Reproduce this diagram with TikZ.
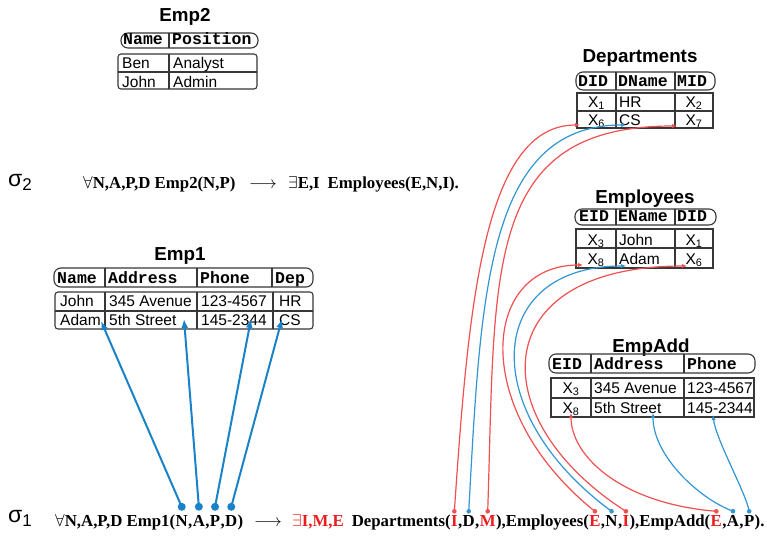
\documentclass[tikz,border=0pt]{standalone}
\usepackage{fontspec}
\setmainfont{Liberation Serif}
\newfontfamily\tabsans{Liberation Sans}
\newfontfamily\tabmono{Liberation Mono}
\usetikzlibrary{arrows.meta}

\definecolor{gridc}{RGB}{55,55,55}
\definecolor{redln}{RGB}{240,80,80}
\definecolor{blueln}{RGB}{50,150,210}
\definecolor{bluear}{RGB}{25,130,200}
\definecolor{redtx}{RGB}{235,30,30}

\tikzset{
  ttl/.style={font=\tabsans\bfseries\fontsize{18.8}{18.8}\selectfont, inner sep=0pt, anchor=base},
  hd/.style={font=\tabmono\bfseries\fontsize{16.5}{16.5}\selectfont, inner sep=0pt, anchor=base west},
  dl/.style={font=\tabsans\fontsize{15.5}{15.5}\selectfont, inner sep=0pt, anchor=base west},
  dc/.style={dl, anchor=base},
  tline/.style={draw=gridc, line width=1.1pt},
  pill/.style={tline, rounded corners=7pt},
  dbox/.style={tline, rounded corners=#1},
  dbox/.default=0pt,
  fm/.style={font=\bfseries\fontsize{16.8}{16.8}\selectfont, inner sep=0pt, anchor=base west},
  rd/.style={fm, text=redtx},
  sig/.style={font=\tabsans\fontsize{23}{23}\selectfont, inner sep=0pt, anchor=base west},
  thickar/.style={draw=bluear, line width=2pt, -{Latex[length=9pt,width=7pt]}},
  rcurve/.style={draw=redln, line width=1.2pt, -{Latex[length=5pt,width=4.5pt]}},
  bcurve/.style={draw=blueln, line width=1.2pt, -{Latex[length=5pt,width=4.5pt]}},
}
\newcommand\sub[1]{\raisebox{-4pt}{\fontsize{17}{17}\selectfont #1}}

\begin{document}
\begin{tikzpicture}[x=1pt,y=-1pt]
\useasboundingbox (0,0) rectangle (767,535);
\fill[white] (0,0) rectangle (767,535);

% ---------- Emp2 ----------
\node[ttl] (emp2t) at (185,22) {Emp2};
\draw[pill] (121,33) rectangle (258,48);
\draw[tline] (169,33) -- (169,48);
\node[hd] (emp2h1) at (123,45) {Name};
\node[hd] (emp2h2) at (172,45) {Position};
\draw[dbox=3pt] (118,54) rectangle (257,89);
\draw[tline] (118,72) -- (257,72);
\draw[tline] (169,54) -- (169,89);
\node[dl] (emp2a1) at (122,68) {Ben};
\node[dl] (emp2a2) at (173,68) {Analyst};
\node[dl] (emp2b1) at (122,87) {John};
\node[dl] (emp2b2) at (173,87) {Admin};

% ---------- Emp1 ----------
\node[ttl] (emp1t) at (180,260) {Emp1};
\draw[pill] (54,268) rectangle (313,287);
\draw[tline] (105,268) -- (105,287);
\draw[tline] (197,268) -- (197,287);
\draw[tline] (272,268) -- (272,287);
\node[hd] (emp1h1) at (57,283) {Name};
\node[hd] (emp1h2) at (108,283) {Address};
\node[hd] (emp1h3) at (200,283) {Phone};
\node[hd] (emp1h4) at (275,283) {Dep};
\draw[dbox=3pt] (55,292) rectangle (313,329);
\draw[tline] (55,311) -- (313,311);
\draw[tline] (105,292) -- (105,329);
\draw[tline] (197,292) -- (197,329);
\draw[tline] (273,292) -- (273,329);
\node[dl] (emp1a1) at (60,306) {John};
\node[dl] (emp1a2) at (109,306) {345 Avenue};
\node[dl] (emp1a3) at (201,306) {123-4567};
\node[dl] (emp1a4) at (279,306) {HR};
\node[dl] (emp1b1) at (60,325) {Adam};
\node[dl] (emp1b2) at (109,325) {5th Street};
\node[dl] (emp1b3) at (201,325) {145-2344};
\node[dl] (emp1b4) at (279,325) {CS};

% ---------- Departments ----------
\node[ttl] (dept) at (640,63) {Departments};
\draw[pill] (576,72) rectangle (715,90);
\draw[tline] (616,72) -- (616,90);
\draw[tline] (675,72) -- (675,90);
\node[hd] (deph1) at (578,86) {DID};
\node[hd] (deph2) at (618,86) {DName};
\node[hd] (deph3) at (677,86) {MID};
\draw[dbox] (577,93) rectangle (713,128);
\draw[tline] (577,111) -- (713,111);
\draw[tline] (616,93) -- (616,128);
\draw[tline] (675,93) -- (675,128);
\node[dc] (depa1) at (596.5,107) {X\textsubscript{1}};
\node[dl] (depa2) at (619,107) {HR};
\node[dc] (depa3) at (694,107) {X\textsubscript{2}};
\node[dc] (depb1) at (596.5,125) {X\textsubscript{6}};
\node[dl] (depb2) at (619,125) {CS};
\node[dc] (depb3) at (694,125) {X\textsubscript{7}};

% ---------- Employees ----------
\node[ttl] (empt) at (645,203) {Employees};
\draw[pill] (575,209) rectangle (716,225);
\draw[tline] (616,209) -- (616,225);
\draw[tline] (675,209) -- (675,225);
\node[hd] (emph1) at (579,221) {EID};
\node[hd] (emph2) at (618,221) {EName};
\node[hd] (emph3) at (677,221) {DID};
\draw[dbox] (576,229) rectangle (713,268);
\draw[tline] (576,248) -- (713,248);
\draw[tline] (616,229) -- (616,268);
\draw[tline] (675,229) -- (675,268);
\node[dc] (empa1) at (596,245) {X\textsubscript{3}};
\node[dl] (empa2) at (619,245) {John};
\node[dc] (empa3) at (694,245) {X\textsubscript{1}};
\node[dc] (empb1) at (596,264) {X\textsubscript{8}};
\node[dl] (empb2) at (619,264) {Adam};
\node[dc] (empb3) at (694,264) {X\textsubscript{6}};

% ---------- EmpAdd ----------
\node[ttl] (addt) at (651,352) {EmpAdd};
\draw[pill] (549,354) rectangle (755,373);
\draw[tline] (591,354) -- (591,373);
\draw[tline] (684,354) -- (684,373);
\node[hd] (addh1) at (552,369) {EID};
\node[hd] (addh2) at (594,369) {Address};
\node[hd] (addh3) at (687,369) {Phone};
\draw[dbox] (551,378) rectangle (754,417);
\draw[tline] (551,398) -- (754,398);
\draw[tline] (591,378) -- (591,417);
\draw[tline] (684,378) -- (684,417);
\node[dc] (adda1) at (571,393) {X\textsubscript{3}};
\node[dl] (adda2) at (594,393) {345 Avenue};
\node[dl] (adda3) at (687,393) {123-4567};
\node[dc] (addb1) at (571,413) {X\textsubscript{8}};
\node[dl] (addb2) at (594,413) {5th Street};
\node[dl] (addb3) at (687,413) {145-2344};

% ---------- sigma_2 ----------
\node[sig] (sig2) at (8,186) {σ\sub{2}};
\node[fm] (s2a) at (83,188) {$\forall$N,A,P,D Emp2(N,P)};
\node[fm, anchor=base] (s2ar) at (263,188) {$\longrightarrow$};
\node[fm] (s2b) at (288,188) {$\exists$E,I\hspace{8pt}Employees(E,N,I).};

% ---------- sigma_1 ----------
\node[sig] (sig1) at (8,522) {σ\sub{1}};
\node[fm] (f1a) at (55,526) {$\forall$N,A,P,D Emp1(};
\node[fm] (f1N) at (f1a.base east) {N};
\node[fm] (f1b) at (f1N.base east) {,};
\node[fm] (f1A) at (f1b.base east) {A};
\node[fm] (f1c) at (f1A.base east) {,};
\node[fm] (f1P) at (f1c.base east) {P};
\node[fm] (f1d) at (f1P.base east) {,};
\node[fm] (f1D) at (f1d.base east) {D};
\node[fm] (f1e) at (f1D.base east) {)};
\node[fm, anchor=base] (s1ar) at (268,526) {$\longrightarrow$};
\node[fm] (f1g) at (292,526) {\textcolor{redtx}{$\exists$I,M,E}\hspace{8pt}Departments(};
\node[rd] (f1I) at (f1g.base east) {I};
\node[fm] (f1h) at (f1I.base east) {,};
\node[fm] (f1Dd) at (f1h.base east) {D};
\node[fm] (f1i) at (f1Dd.base east) {,};
\node[rd] (f1M) at (f1i.base east) {M};
\node[fm] (f1j) at (f1M.base east) {),Employees(};
\node[rd] (f1E) at (f1j.base east) {E};
\node[fm] (f1k) at (f1E.base east) {,};
\node[fm] (f1Nn) at (f1k.base east) {N};
\node[fm] (f1l) at (f1Nn.base east) {,};
\node[rd] (f1Ii) at (f1l.base east) {I};
\node[fm] (f1m) at (f1Ii.base east) {),EmpAdd(};
\node[rd] (f1Ee) at (f1m.base east) {E};
\node[fm] (f1o) at (f1Ee.base east) {,};
\node[fm] (f1Aa) at (f1o.base east) {A};
\node[fm] (f1p) at (f1Aa.base east) {,};
\node[fm] (f1Pp) at (f1p.base east) {P};
\node[fm] (f1q) at (f1Pp.base east) {).};

% ---------- connector ends ----------
\coordinate (oN) at ([yshift=8pt]f1N.north);
\coordinate (oA) at ([yshift=8pt]f1A.north);
\coordinate (oP) at ([yshift=8pt]f1P.north);
\coordinate (oD) at ([yshift=8pt]f1D.north);
\coordinate (oDI) at ([yshift=3.5pt]f1I.north);
\coordinate (oDD) at ([yshift=3.5pt]f1Dd.north);
\coordinate (oDM) at ([yshift=3.5pt]f1M.north);
\coordinate (oEE) at ([yshift=3.5pt]f1E.north);
\coordinate (oEN) at ([yshift=3.5pt]f1Nn.north);
\coordinate (oEI) at ([yshift=3.5pt]f1Ii.north);
\coordinate (oAE) at ([yshift=3.5pt]f1Ee.north);
\coordinate (oAA) at ([yshift=3.5pt]f1Aa.north);
\coordinate (oAP) at ([yshift=3.5pt]f1Pp.north);

\coordinate (tN) at (101,321);
\coordinate (tA) at (184,319);
\coordinate (tP) at (251,319);
\coordinate (tD) at (282,319);
\coordinate (tDI) at (580,125);
\coordinate (tDD) at (626,125);
\coordinate (tDM) at (677,126);
\coordinate (tEE) at (583,265);
\coordinate (tEN) at (626,266);
\coordinate (tEI) at (687,266);
\coordinate (tAE) at (571,413);
\coordinate (tAA) at (653,413);
\coordinate (tAP) at (713,415);

% ---------- Emp1 mapping ----------
\foreach \s/\t in {oN/tN, oA/tA, oP/tP, oD/tD}{
  \draw[thickar] (\s) -- (\t);
  \fill[bluear] (\s) circle (4pt);
}

% ---------- Departments mapping ----------
\draw[rcurve] (oDI) .. controls +(14,-208) and +(-96,0) .. (tDI);
\draw[bcurve] (oDD) .. controls +(12,-215) and +(-140,0) .. (tDD);
\draw[rcurve] (oDM) .. controls +(8,-240) and +(-195,0) .. (tDM);

% ---------- Employees mapping ----------
\draw[rcurve] (oEE) .. controls +(-125,-100) and +(-103,0) .. (tEE);
\draw[bcurve] (oEN) .. controls +(-136,-100) and +(-141,0) .. (tEN);
\draw[rcurve] (oEI) .. controls +(-144,-92) and +(-202,0) .. (tEI);

% ---------- EmpAdd mapping ----------
\draw[rcurve] (oAE) .. controls +(-97,-8) and +(0,42) .. (tAE);
\draw[bcurve] (oAA) .. controls +(-35,-13) and +(0,42) .. (tAA);
\draw[bcurve] (oAP) .. controls +(-3,-18) and +(3,25) .. (tAP);

\foreach \s in {oDI, oDM, oEE, oEI, oAE}{\fill[redln] (\s) circle (2.3pt);}
\foreach \s in {oDD, oEN, oAA, oAP}{\fill[blueln] (\s) circle (2.3pt);}
\end{tikzpicture}
\end{document}
